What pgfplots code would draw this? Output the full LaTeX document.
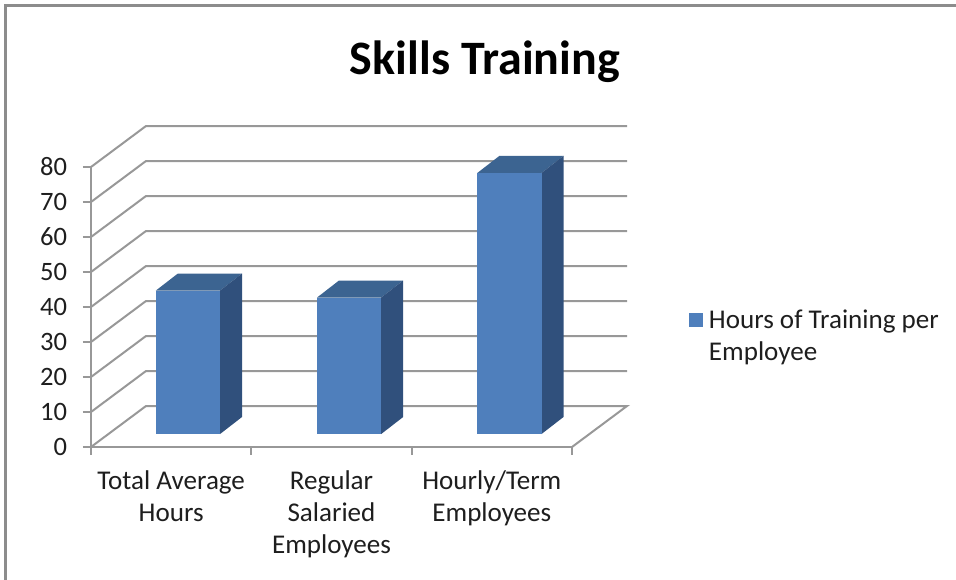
\documentclass[border=0pt]{standalone}
\usepackage{pgfplots}
\pgfplotsset{compat=1.18}
\usepackage{fontspec}
\setmainfont{Carlito}
\definecolor{gridgray}{HTML}{989898}
\definecolor{framegray}{HTML}{8C8C8C}
\definecolor{barfront}{HTML}{4F7FBC}
\definecolor{bartop}{HTML}{3C6491}
\definecolor{barside}{HTML}{30507C}
\definecolor{txt}{HTML}{1E1E1E}
\begin{document}
\begin{tikzpicture}
\useasboundingbox (-68.25pt,-99.75pt) rectangle (648.75pt,335.25pt);
\draw[framegray,line width=1.9pt] (-64pt,-99.75pt) -- (-64pt,331pt) -- (648.75pt,331pt);
\begin{axis}[
  scale only axis, width=360.75pt, height=210pt,
  xmin=0, xmax=3, ymin=0, ymax=80, clip=false,
  axis x line=bottom, axis y line=left,
  axis line style={gridgray,line width=1.6pt,-},
  xtick={0,1,2,3},
  x tick label as interval,
  xticklabels={{Total Average\\Hours},{Regular\\Salaried\\Employees},{Hourly/Term\\Employees}},
  x tick style={gridgray,line width=1.4pt},
  x tick label style={align=center, yshift=-8pt, text=txt, font=\fontsize{20.3}{24.2}\selectfont, anchor=north},
  ytick={0,10,...,80},
  y tick style={gridgray,line width=1.4pt},
  y tick label style={xshift=-8.5pt, text=txt, font=\fontsize{19.9}{24.4}\selectfont, /pgf/number format/assume math mode=true},
  tick align=outside, major tick length=6pt,
  title={Skills Training},
  title style={at={(axis description cs:0.819,1.347)},anchor=center,font=\bfseries\fontsize{36}{42}\selectfont,text=black},
  legend style={draw=none,fill=none,at={(axis description cs:1.2433,0.3964)},anchor=west,
    font=\fontsize{20.3}{24.2}\selectfont,text=txt,nodes={align=left},inner sep=0pt,legend cell align=left},
  legend image code/.code={\fill[barfront,draw=none] (0pt,6.8pt) rectangle (10.5pt,17.3pt);\path[draw=none,fill=none] (0pt,0pt) -- (12.75pt,0pt);},
]
% walls and floor: each gridline runs back from the front plane, then along the back wall
\pgfplotsinvokeforeach{10,20,...,80}{
  \addplot[gridgray,line width=1.5pt,forget plot] coordinates {(0,#1) (0.343,#1+11.71) (3.343,#1+11.71)};
}
\addplot[gridgray,line width=1.5pt,forget plot] coordinates {(0,0) (0.343,11.71) (3.343,11.71) (3,0)};

% Total Average Hours: 41
\addplot[fill=bartop,draw=none,forget plot] coordinates {(0.405,44.71) (0.542,49.57) (0.942,49.57) (0.805,44.71)} --cycle;
\addplot[fill=barside,draw=none,forget plot] coordinates {(0.805,3.71) (0.942,8.57) (0.942,49.57) (0.805,44.71)} --cycle;
\addplot[fill=barfront,draw=none,forget plot] coordinates {(0.405,3.71) (0.805,3.71) (0.805,44.71) (0.405,44.71)} --cycle;
% Regular Salaried Employees: 39
\addplot[fill=bartop,draw=none,forget plot] coordinates {(1.41,42.71) (1.547,47.57) (1.947,47.57) (1.81,42.71)} --cycle;
\addplot[fill=barside,draw=none,forget plot] coordinates {(1.81,3.71) (1.947,8.57) (1.947,47.57) (1.81,42.71)} --cycle;
\addplot[fill=barfront,draw=none,forget plot] coordinates {(1.41,3.71) (1.81,3.71) (1.81,42.71) (1.41,42.71)} --cycle;
% Hourly/Term Employees: 74.6
\addplot[fill=bartop,draw=none,forget plot] coordinates {(2.41,78.31) (2.547,83.17) (2.947,83.17) (2.81,78.31)} --cycle;
\addplot[fill=barside,draw=none,forget plot] coordinates {(2.81,3.71) (2.947,8.57) (2.947,83.17) (2.81,78.31)} --cycle;
\addplot[fill=barfront,draw=none,forget plot] coordinates {(2.41,3.71) (2.81,3.71) (2.81,78.31) (2.41,78.31)} --cycle;
\addlegendimage{barfront}
\addlegendentry{Hours of Training per\\Employee}
\end{axis}
\end{tikzpicture}
\end{document}
